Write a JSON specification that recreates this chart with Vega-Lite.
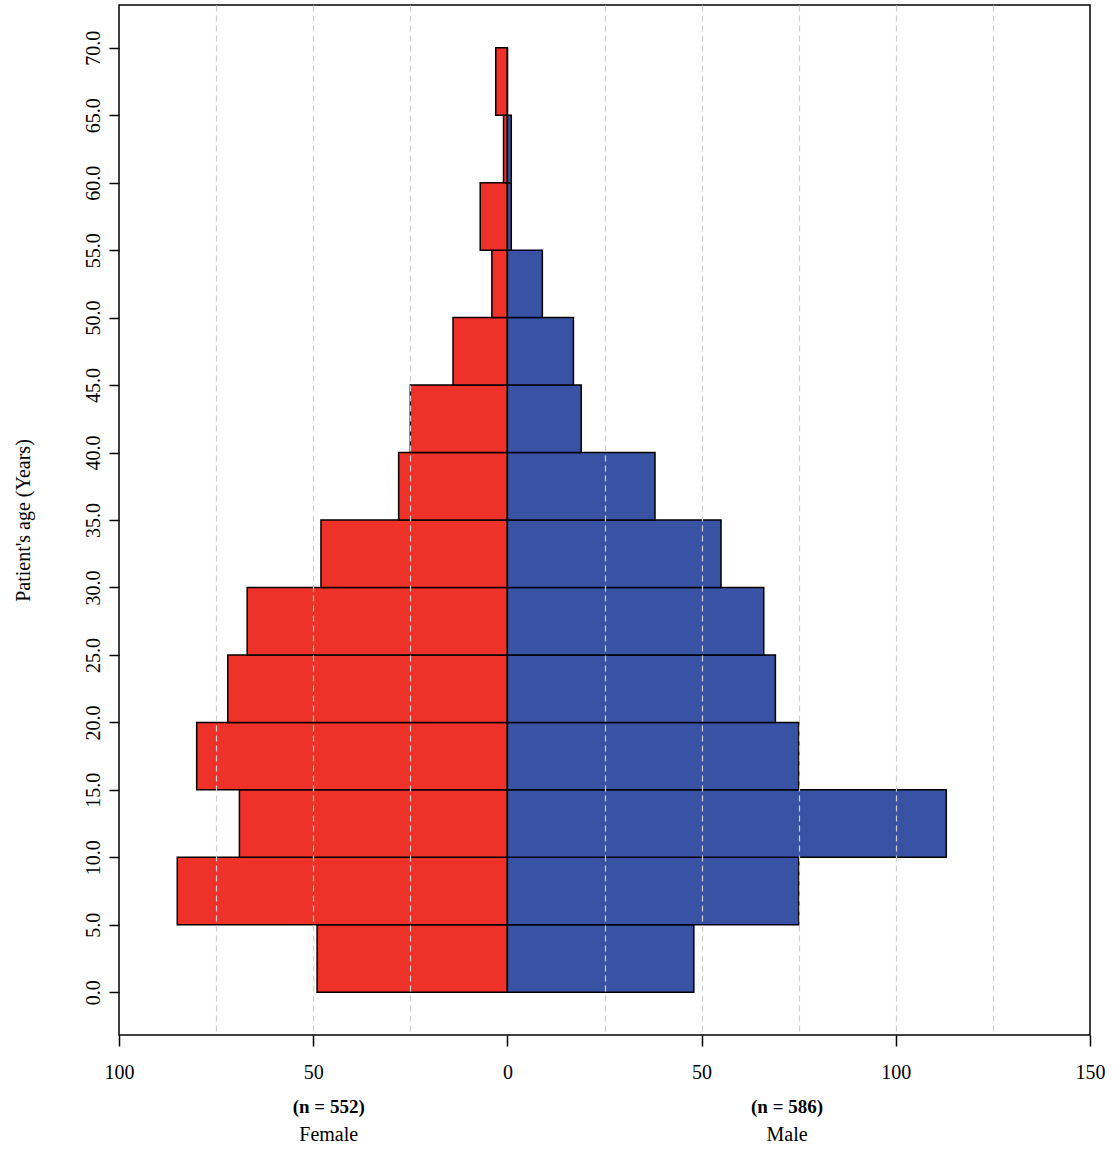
{
  "$schema": "https://vega.github.io/schema/vega-lite/v6.json",
  "autosize": "none",
  "width": 971,
  "height": 1030,
  "padding": {"left": 119, "top": 5, "right": 23, "bottom": 120},
  "background": "white",
  "config": {
    "font": "Liberation Serif",
    "view": {"stroke": "black", "strokeWidth": 1.5},
    "axis": {"labelFont": "Liberation Serif", "titleFont": "Liberation Serif", "labelColor": "black", "titleColor": "black", "titleFontWeight": "normal", "labelFlush": false}
  },
  "resolve": {"axis": {"x": "independent"}},
  "layer": [
    {
      "data": {"values": [
        {"sex": "Female", "age": 0, "age_end": 5, "count": 49},
        {"sex": "Female", "age": 5, "age_end": 10, "count": 85},
        {"sex": "Female", "age": 10, "age_end": 15, "count": 69},
        {"sex": "Female", "age": 15, "age_end": 20, "count": 80},
        {"sex": "Female", "age": 20, "age_end": 25, "count": 72},
        {"sex": "Female", "age": 25, "age_end": 30, "count": 67},
        {"sex": "Female", "age": 30, "age_end": 35, "count": 48},
        {"sex": "Female", "age": 35, "age_end": 40, "count": 28},
        {"sex": "Female", "age": 40, "age_end": 45, "count": 25},
        {"sex": "Female", "age": 45, "age_end": 50, "count": 14},
        {"sex": "Female", "age": 50, "age_end": 55, "count": 4},
        {"sex": "Female", "age": 55, "age_end": 60, "count": 7},
        {"sex": "Female", "age": 60, "age_end": 65, "count": 1},
        {"sex": "Female", "age": 65, "age_end": 70, "count": 3},
        {"sex": "Male", "age": 0, "age_end": 5, "count": 48},
        {"sex": "Male", "age": 5, "age_end": 10, "count": 75},
        {"sex": "Male", "age": 10, "age_end": 15, "count": 113},
        {"sex": "Male", "age": 15, "age_end": 20, "count": 75},
        {"sex": "Male", "age": 20, "age_end": 25, "count": 69},
        {"sex": "Male", "age": 25, "age_end": 30, "count": 66},
        {"sex": "Male", "age": 30, "age_end": 35, "count": 55},
        {"sex": "Male", "age": 35, "age_end": 40, "count": 38},
        {"sex": "Male", "age": 40, "age_end": 45, "count": 19},
        {"sex": "Male", "age": 45, "age_end": 50, "count": 17},
        {"sex": "Male", "age": 50, "age_end": 55, "count": 9},
        {"sex": "Male", "age": 55, "age_end": 60, "count": 1},
        {"sex": "Male", "age": 60, "age_end": 65, "count": 1},
        {"sex": "Male", "age": 65, "age_end": 70, "count": 0}
      ]},
      "transform": [
        {"calculate": "datum.sex === 'Female' ? -datum.count : datum.count", "as": "signed"}
      ],
      "mark": {"type": "bar", "stroke": "black", "strokeWidth": 1.5, "orient": "horizontal"},
      "encoding": {
        "y": {"field": "age", "type": "quantitative",
              "scale": {"domain": [-2.8, 72.8], "nice": false, "zero": false},
              "axis": {"values": [0,5,10,15,20,25,30,35,40,45,50,55,60,65,70], "format": ".1f", "gridOpacity": 0,
                       "domain": false, "tickSize": 10, "tickColor": "black", "tickWidth": 1.5,
                       "labelAngle": 270, "labelAlign": "center", "labelBaseline": "alphabetic", "labelFontSize": 20,
                       "labelPadding": 10,
                       "title": "Patient's age (Years)", "titleFontSize": 20, "titlePadding": 50}},
        "y2": {"field": "age_end"},
        "x": {"field": "signed", "type": "quantitative",
              "scale": {"domain": [-100, 150], "nice": false, "zero": false},
              "axis": {"values": [-100, -50, 0, 50, 100, 150], "labelExpr": "format(abs(datum.value), 'd')",
                       "domain": false, "tickSize": 11, "tickColor": "black", "tickWidth": 1.5,
                       "gridOpacity": 0, "labelFontSize": 20, "labelPadding": 16, "title": null}},
        "x2": {"datum": 0},
        "color": {"field": "sex", "type": "nominal",
                  "scale": {"domain": ["Female", "Male"], "range": ["#ee3129", "#3953a4"]}, "legend": null}
      }
    },
    {
      "mark": {"type": "rule", "color": "black", "strokeWidth": 1.5},
      "encoding": {
        "x": {"datum": 0, "type": "quantitative",
              "axis": {"orient": "top", "values": [-75, -50, -25, 25, 50, 75, 100, 125], "grid": true,
                       "gridDash": [6, 4], "gridColor": "#cfcfcf", "gridWidth": 1.2, "labels": false,
                       "ticks": false, "domain": false, "title": null, "zindex": 1}}
      }
    },
    {
      "data": {"values": [{"sex": "Female", "n": "(n = 552)"}]},
      "layer": [
        {"mark": {"type": "text", "fontWeight": "bold", "fontSize": 19, "dy": 77, "color": "black"},
         "encoding": {"x": {"datum": -46, "type": "quantitative",
                            "axis": {"orient": "bottom", "values": [-100, -50, 0, 50, 100, 150], "labels": false,
                                     "domain": false, "gridOpacity": 0, "tickSize": 11, "tickColor": "black",
                                     "tickWidth": 1.5, "title": null}},
                      "y": {"datum": -2.8}, "text": {"field": "n"}}},
        {"mark": {"type": "text", "fontSize": 20, "dy": 105, "color": "black"},
         "encoding": {"x": {"datum": -46, "axis": null}, "y": {"datum": -2.8}, "text": {"field": "sex"}}}
      ]
    },
    {
      "data": {"values": [{"sex": "Male", "n": "(n = 586)"}]},
      "layer": [
        {"mark": {"type": "text", "fontWeight": "bold", "fontSize": 19, "dy": 77, "color": "black"},
         "encoding": {"x": {"datum": 72, "axis": null}, "y": {"datum": -2.8}, "text": {"field": "n"}}},
        {"mark": {"type": "text", "fontSize": 20, "dy": 105, "color": "black"},
         "encoding": {"x": {"datum": 72, "axis": null}, "y": {"datum": -2.8}, "text": {"field": "sex"}}}
      ]
    }
  ]
}
